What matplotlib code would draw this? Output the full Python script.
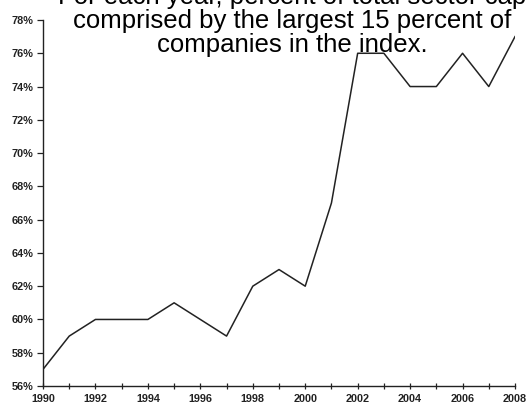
import matplotlib
matplotlib.use('Agg')
import matplotlib.pyplot as plt
from matplotlib.ticker import MultipleLocator, FuncFormatter

# Data
years = [1990, 1991, 1992, 1993, 1994, 1995, 1996, 1997, 1998, 1999,
         2000, 2001, 2002, 2003, 2004, 2005, 2006, 2007, 2008]
share = [57, 59, 60, 60, 60, 61, 60, 59, 62, 63,
         62, 67, 76, 76, 74, 74, 76, 74, 77]

title_text = ("For each year, percent of total sector cap\n"
              "comprised by the largest 15 percent of\n"
              "companies in the index.")

fig = plt.figure(figsize=(5.29, 4.04), dpi=100)
ax = fig.add_axes([43 / 529, 18 / 404, 472 / 529, 366 / 404])

ax.plot(years, share, color='#222222', linewidth=1.1)

ax.set_xlim(1990, 2008)
ax.set_ylim(56, 78)
ax.xaxis.set_major_locator(MultipleLocator(2))
ax.xaxis.set_minor_locator(MultipleLocator(1))
ax.yaxis.set_major_locator(MultipleLocator(2))
ax.yaxis.set_major_formatter(FuncFormatter(lambda v, p: f'{v:.0f}%'))

for s in ['top', 'right']:
    ax.spines[s].set_visible(False)
for s in ['left', 'bottom']:
    ax.spines[s].set_linewidth(1.0)
    ax.spines[s].set_color('#222222')

ax.tick_params(axis='x', which='both', direction='inout', length=5, width=0.9,
               labelsize=7.8, pad=3, colors='#222222')
ax.tick_params(axis='y', direction='out', length=4, width=0.9,
               labelsize=7.8, pad=3, colors='#222222')
for lbl in ax.get_xticklabels() + ax.get_yticklabels():
    lbl.set_fontweight('bold')
    lbl.set_family('Liberation Sans')

fig.text(292 / 529, 1 - 52 / 404, title_text, ha='center', va='baseline',
         fontsize=18.5, family='Liberation Sans', linespacing=1.0,
         color='black')

fig.savefig('out.png', dpi=100)
